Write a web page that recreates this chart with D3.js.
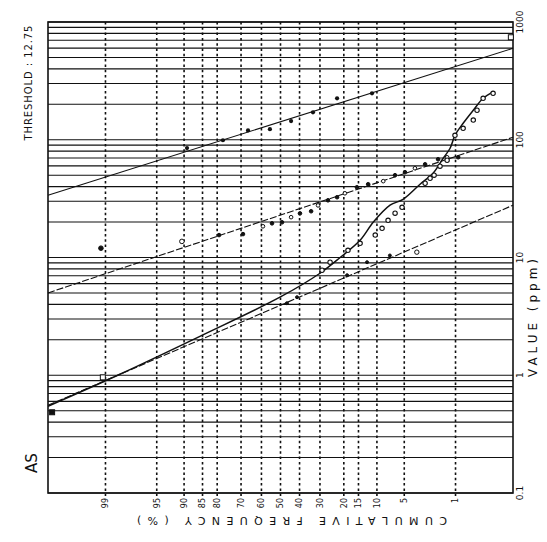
<!DOCTYPE html>
<html>
<head>
<meta charset="utf-8">
<script src="https://cdn.jsdelivr.net/npm/d3@7"></script>
<style>
  body { margin: 0; background: #fff; }
  text { font-family: "DejaVu Sans", sans-serif; fill: #111; }
</style>
</head>
<body>
<div id="chart"></div>
<script>
// cumulative frequency ticks (%) and value ticks (ppm)
var probTicks = [99, 95, 90, 85, 80, 70, 60, 50, 40, 30, 20, 15, 10, 5, 1];
var valueTicks = [0.1, 1, 10, 100, 1000];
var valueLabels = ["0.1", "1", "10", "100", "1000"];

// fitted straight lines, [percent, ppm] at both ends of the axis
var lineA = [[99.9, 33.8], [0.1, 598]];
var lineB = [[99.9, 5.0], [0.1, 105]];
var lineC = [[99.9, 0.556], [0.1, 27.8]];

// smoothed curve through the raw data
var curveVals = [[99.9, 0.546], [98.36, 1.02], [85.8, 2.14], [50.3, 4.6], [29.98, 7.35],
  [21.4, 10.0], [14.5, 14.0], [10.9, 19.9], [7.27, 27.8], [5.17, 31.2], [3.18, 41.9],
  [2.13, 51.9], [1.53, 69.6], [1.21, 84.7], [1.02, 109], [0.76, 138], [0.52, 178],
  [0.354, 225], [0.246, 253]];

// data points
var pointsA = [[89.3, 85], [77.8, 99], [66.7, 120], [55.6, 123], [44.4, 144],
  [33.3, 171], [22.6, 225], [11.2, 248]];
var pointsB = [[99.15, 12.0], [90.5, 13.7], [79.3, 15.5], [69.1, 15.8], [59.2, 18.4],
  [54.5, 19.5], [49.2, 19.9], [44.4, 22.0], [39.8, 23.7], [34.2, 24.7], [30.9, 27.7],
  [26.4, 30.6], [22.6, 32.5], [19.6, 35.1], [15.5, 39.5], [12.2, 41.9], [8.6, 44.5],
  [6.4, 50.0], [4.9, 53.0], [3.7, 57.3], [2.73, 61.9], [1.81, 68.3], [1.34, 71.0],
  [0.91, 71.0]];
var pointsC = [[46.6, 4.09], [41.3, 4.6], [18.8, 7.07], [12.5, 9.12], [7.3, 10.4], [3.5, 11.1]];
var pointsCurve = [[29.05, 7.79], [25.5, 9.12], [18.5, 11.5], [14.5, 13.2], [10.4, 15.5],
  [8.85, 17.7], [7.64, 20.7], [6.39, 23.8], [5.31, 26.7], [2.73, 42.7], [2.34, 47.1],
  [2.06, 50.0], [1.70, 59.6], [1.34, 67.0], [1.02, 109], [0.76, 125], [0.52, 147],
  [0.45, 178], [0.354, 225], [0.236, 248]];
var squarePoints = [[0.11, 742], [99.88, 0.485], [99.09, 0.96]];

// inverse normal (probability paper)
function probit(p) {
  var a = [-39.69683028665376, 220.9460984245205, -275.9285104469687, 138.3577518672690, -30.66479806614716, 2.506628277459239];
  var b = [-54.47609879822406, 161.5858368580409, -155.6989798598866, 66.80131188771972, -13.28068155288572];
  var c = [-0.007784894002430293, -0.3223964580411365, -2.400758277161838, -2.549732539343734, 4.374664141464968, 2.938163982698783];
  var d = [0.007784695709041462, 0.3224671290700398, 2.445134137142996, 3.754408661907416];
  var q, r;
  if (p < 0.02425) {
    q = Math.sqrt(-2 * Math.log(p));
    return (((((c[0]*q+c[1])*q+c[2])*q+c[3])*q+c[4])*q+c[5]) / ((((d[0]*q+d[1])*q+d[2])*q+d[3])*q+1);
  }
  if (p > 1 - 0.02425) {
    q = Math.sqrt(-2 * Math.log(1 - p));
    return -(((((c[0]*q+c[1])*q+c[2])*q+c[3])*q+c[4])*q+c[5]) / ((((d[0]*q+d[1])*q+d[2])*q+d[3])*q+1);
  }
  q = p - 0.5; r = q * q;
  return (((((a[0]*r+a[1])*r+a[2])*r+a[3])*r+a[4])*r+a[5])*q / (((((b[0]*r+b[1])*r+b[2])*r+b[3])*r+b[4])*r+1);
}

var svgWidth = 547, svgHeight = 542;
var frame = { left: 48, right: 513, top: 22, bottom: 493 };

var svg = d3.select("#chart").append("svg")
  .attr("width", svgWidth)
  .attr("height", svgHeight);
svg.append("rect").attr("width", svgWidth).attr("height", svgHeight).attr("fill", "#fff");

// percent axis runs horizontally (99.9 left), value axis vertically (log)
var zScale = d3.scaleLinear()
  .domain([probit(0.999), probit(0.001)])
  .range([frame.left, frame.right]);
var xScale = function(pct) { return zScale(probit(pct / 100)); };
var yScale = d3.scaleLog().domain([0.1, 1000]).range([frame.bottom, frame.top]);

// horizontal grid at every 1..9 of each decade
var gridVals = [];
[0.1, 1, 10, 100].forEach(function(dec) {
  for (var k = 1; k <= 9; k++) gridVals.push(+(k * dec).toPrecision(3));
});
gridVals.push(1000);

svg.append("g").selectAll("line")
  .data(gridVals).enter().append("line")
  .attr("x1", frame.left).attr("x2", frame.right)
  .attr("y1", function(d) { return yScale(d); })
  .attr("y2", function(d) { return yScale(d); })
  .attr("stroke", "#111")
  .attr("stroke-width", 1.1);

// dotted verticals at the percent ticks
svg.append("g").selectAll("line")
  .data(probTicks).enter().append("line")
  .attr("x1", function(d) { return xScale(d); })
  .attr("x2", function(d) { return xScale(d); })
  .attr("y1", frame.top).attr("y2", frame.bottom + 3)
  .attr("stroke", "#111")
  .attr("stroke-width", 1.6)
  .attr("stroke-dasharray", "2.5,2.8");

// frame
svg.append("rect")
  .attr("x", frame.left).attr("y", frame.top)
  .attr("width", frame.right - frame.left).attr("height", frame.bottom - frame.top)
  .attr("fill", "none").attr("stroke", "#111").attr("stroke-width", 1.6);

var plot = svg.append("g");
var toXY = d3.line()
  .x(function(d) { return xScale(d[0]); })
  .y(function(d) { return yScale(d[1]); });

plot.append("path").datum(lineA).attr("d", toXY)
  .attr("fill", "none").attr("stroke", "#111").attr("stroke-width", 1.1);
plot.append("path").datum(lineB).attr("d", toXY)
  .attr("fill", "none").attr("stroke", "#111").attr("stroke-width", 1.1)
  .attr("stroke-dasharray", "7,2");
plot.append("path").datum(lineC).attr("d", toXY)
  .attr("fill", "none").attr("stroke", "#111").attr("stroke-width", 1.1)
  .attr("stroke-dasharray", "7,2");
plot.append("path").datum(curveVals)
  .attr("d", toXY.curve(d3.curveCatmullRom))
  .attr("fill", "none").attr("stroke", "#111").attr("stroke-width", 1.5);

// points
plot.selectAll(".ptA").data(pointsA).enter().append("circle")
  .attr("cx", function(d) { return xScale(d[0]); })
  .attr("cy", function(d) { return yScale(d[1]); })
  .attr("r", 2.1).attr("fill", "#111");

plot.selectAll(".ptB").data(pointsB).enter().append("circle")
  .attr("cx", function(d) { return xScale(d[0]); })
  .attr("cy", function(d) { return yScale(d[1]); })
  .attr("r", function(d, i) { return i < 2 ? 2.3 : 1.8; })
  .attr("fill", function(d, i) { return i % 3 === 1 ? "#fff" : "#111"; })
  .attr("stroke", "#111").attr("stroke-width", 1);

plot.selectAll(".ptC").data(pointsC).enter().append("circle")
  .attr("cx", function(d) { return xScale(d[0]); })
  .attr("cy", function(d) { return yScale(d[1]); })
  .attr("r", function(d, i) { return i === pointsC.length - 1 ? 2.2 : 1.5; })
  .attr("fill", function(d, i) { return i === pointsC.length - 1 ? "#fff" : "#111"; })
  .attr("stroke", "#111").attr("stroke-width", 1);

plot.selectAll(".ptK").data(pointsCurve).enter().append("circle")
  .attr("cx", function(d) { return xScale(d[0]); })
  .attr("cy", function(d) { return yScale(d[1]); })
  .attr("r", 2.2).attr("fill", "#fff")
  .attr("stroke", "#111").attr("stroke-width", 1.1);

plot.selectAll(".sq").data(squarePoints).enter().append("rect")
  .attr("x", function(d) { return xScale(d[0]) - 2.5; })
  .attr("y", function(d) { return yScale(d[1]) - 2.5; })
  .attr("width", 5).attr("height", 5)
  .attr("fill", function(d, i) { return i === 1 ? "#111" : "#fff"; })
  .attr("stroke", "#111").attr("stroke-width", 1);

// percent tick labels (rotated with the page)
svg.append("g").selectAll("text")
  .data(probTicks).enter().append("text")
  .attr("transform", function(d) { return "translate(" + xScale(d) + "," + (frame.bottom + 5) + ") rotate(-90)"; })
  .attr("text-anchor", "end")
  .attr("dy", "0.35em")
  .style("font-size", "8px")
  .text(function(d) { return d; });

// value tick labels
svg.append("g").selectAll("text")
  .data(valueTicks).enter().append("text")
  .attr("transform", function(d) { return "translate(" + (frame.right + 7) + "," + yScale(d) + ") rotate(-90)"; })
  .attr("text-anchor", "middle")
  .attr("dy", "0.35em")
  .style("font-size", "9px")
  .text(function(d, i) { return valueLabels[i]; });

// axis titles
svg.append("text")
  .attr("transform", "translate(292, 521) rotate(180)")
  .attr("text-anchor", "middle")
  .attr("dy", "0.35em")
  .attr("textLength", 310)
  .attr("lengthAdjust", "spacing")
  .style("font-size", "11px")
  .text("CUMULATIVE FREQUENCY (%)");

svg.append("text")
  .attr("transform", "translate(533, 318) rotate(-90)")
  .attr("text-anchor", "middle")
  .attr("dy", "0.35em")
  .attr("textLength", 118)
  .attr("lengthAdjust", "spacing")
  .style("font-size", "12px")
  .text("VALUE  (ppm)");

svg.append("text")
  .attr("transform", "translate(28, 83) rotate(-90)")
  .attr("text-anchor", "middle")
  .attr("dy", "0.35em")
  .attr("textLength", 115)
  .attr("lengthAdjust", "spacing")
  .style("font-size", "10px")
  .text("THRESHOLD : 12.75");

svg.append("text")
  .attr("transform", "translate(32, 463) rotate(-90)")
  .attr("text-anchor", "middle")
  .attr("dy", "0.35em")
  .style("font-size", "15px")
  .text("AS");
</script>
</body>
</html>
